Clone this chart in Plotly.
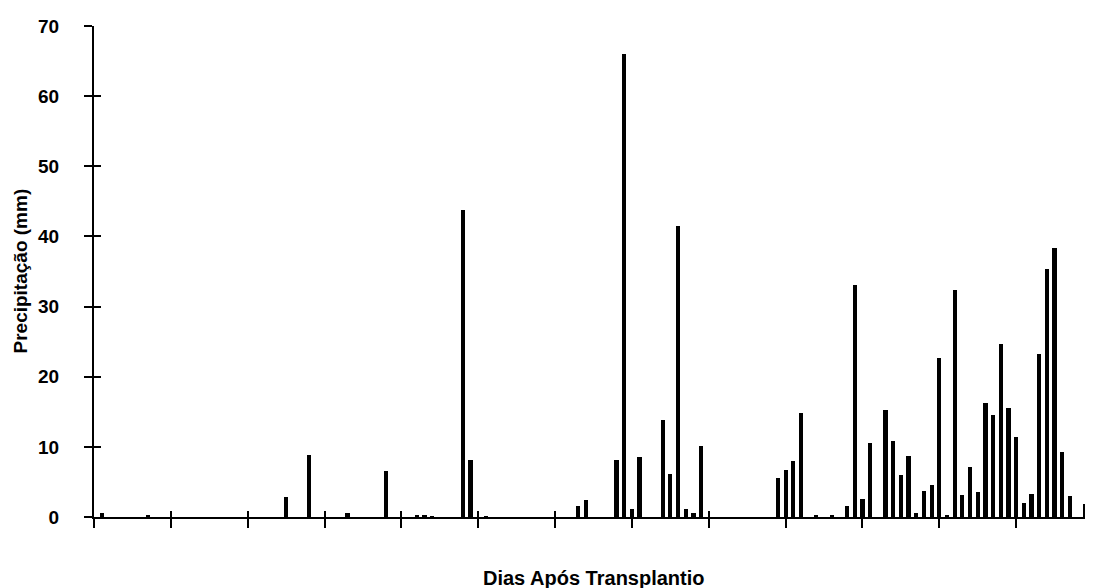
import plotly.graph_objects as go

days = [1, 7, 25, 28, 33, 38, 42, 43, 44, 48, 49, 51, 63, 64, 68, 69, 70, 71,
        74, 75, 76, 77, 78, 79, 89, 90, 91, 92, 94, 96, 98, 99, 100, 101, 103,
        104, 105, 106, 107, 108, 109, 110, 111, 112, 113, 114, 115, 116, 117,
        118, 119, 120, 121, 122, 123, 124, 125, 126, 127, 129]
rain = [0.5, 0.3, 2.9, 8.9, 0.6, 6.6, 0.3, 0.2, 0.1, 43.7, 8.1, 0.1, 1.5, 2.4,
        8.1, 66.0, 1.2, 8.6, 13.8, 6.1, 41.5, 1.2, 0.5, 10.1, 5.6, 6.7, 8.0,
        14.8, 0.2, 0.2, 1.5, 33.1, 2.5, 10.5, 15.2, 10.9, 6.0, 8.7, 0.6, 3.7,
        4.5, 22.6, 0.2, 32.4, 3.2, 7.2, 3.6, 16.3, 14.6, 24.7, 15.5, 11.4, 2.0,
        3.3, 23.3, 35.4, 38.3, 9.3, 3.0, 1.9]

x_title = "Dias Após Transplantio"
y_title = "Precipitação (mm)"
y_ticks = [0, 10, 20, 30, 40, 50, 60, 70]
x_ticks = list(range(0, 131, 10))

font = "Liberation Sans, Arial, sans-serif"

fig = go.Figure()
fig.add_trace(go.Bar(x=days, y=rain, width=0.55,
                     marker=dict(color="black", line=dict(width=0)),
                     showlegend=False))
# helper trace for the overlay axes (crossing tick marks)
fig.add_trace(go.Scatter(x=[0], y=[0], xaxis="x2", yaxis="y2", mode="markers",
                         marker=dict(opacity=0), hoverinfo="skip",
                         showlegend=False))

fig.update_layout(
    width=1085, height=580,
    margin=dict(l=86, r=0, t=18, b=71, autoexpand=False),
    paper_bgcolor="white", plot_bgcolor="white",
    font=dict(family=font, color="black", size=18),
    bargap=0,
    xaxis=dict(range=[0, 130], tickvals=x_ticks, showticklabels=False,
               ticks="outside", ticklen=9, tickwidth=2, tickcolor="black",
               showline=True, linecolor="black", linewidth=2,
               showgrid=False, zeroline=False, automargin=False),
    yaxis=dict(range=[0, 70], tickvals=y_ticks, ticks="outside", ticklen=8,
               tickwidth=2, tickcolor="black",
               showline=True, linecolor="black", linewidth=2,
               showgrid=False, zeroline=False, automargin=False,
               tickfont=dict(size=19, family=font, weight="bold"),
               ticklabelstandoff=21),
    xaxis2=dict(range=[0, 130], tickvals=x_ticks, overlaying="x", anchor="y2",
                side="bottom", ticks="inside", ticklen=6, tickwidth=2,
                tickcolor="black", showticklabels=False, showline=False,
                showgrid=False, zeroline=False, automargin=False),
    yaxis2=dict(range=[0, 70], tickvals=y_ticks, overlaying="y", anchor="x2",
                side="left", ticks="inside", ticklen=7, tickwidth=2,
                tickcolor="black", showticklabels=False, showline=False,
                showgrid=False, zeroline=False, automargin=False),
    annotations=[
        dict(text=x_title, xref="paper", yref="paper", x=0.5, y=0,
             yshift=-61, xanchor="center", yanchor="middle", showarrow=False,
             font=dict(size=20, family=font, weight="bold")),
        dict(text=y_title, xref="paper", yref="paper", x=0, y=0.5,
             xshift=-74, xanchor="center", yanchor="middle", textangle=-90,
             showarrow=False, font=dict(size=19, family=font, weight="bold")),
    ],
)

fig.write_html("out.html")
